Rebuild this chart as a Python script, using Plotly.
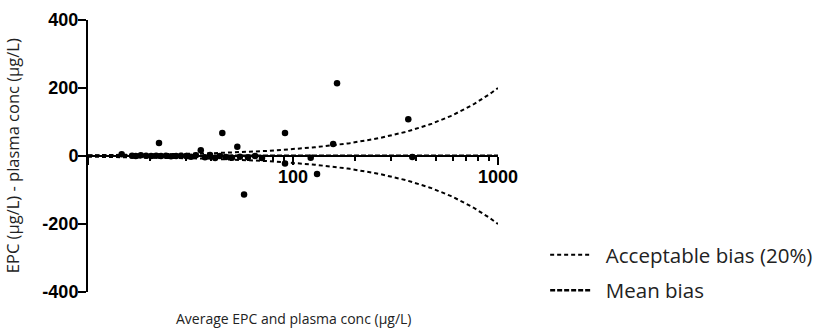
import numpy as np
import plotly.graph_objects as go

# Bland-Altman style comparison: EPC vs plasma concentration
avg_conc = [14.6, 16.4, 17.1, 18.1, 19.2, 20.3, 21.5, 22.2, 22.7, 24.0, 25.4, 26.9,
            28.4, 30.1, 31.8, 33.6, 35.5, 37.2, 39.4, 41.7, 44.0, 45.2, 47.1, 50.4,
            53.5, 55.1, 57.7, 60.3, 65.3, 70.6, 91.4, 91.4, 122, 131, 157, 164, 365, 382]
diff_conc = [5, 1, 0, 2, 1, 0, 1, 38, 0, 1, -1, 0,
             1, 0, -2, 2, 17, -4, 3, -6, 0, 68, -3, -5,
             27, -2, -113, -4, 0, -6, 68, -22, -5, -53, 35, 214, 108, -3]

BIAS_FRACTION = 0.20   # acceptable bias limit (20 %)
MEAN_BIAS = 1.0        # mean difference, µg/L

x_range = [10, 1000]
x_line = np.geomspace(x_range[0], x_range[1], 200)

y_ticks = [400, 200, 0, -200, -400]
y_tick_text = ["400", "200", "0", "-200", "-400"]
x_ticks = [10, 100, 1000]
x_tick_text = ["", "100", "1000"]
x_minor = [20, 30, 40, 50, 60, 70, 80, 90, 200, 300, 400, 500, 600, 700, 800, 900]

label_font = "'Open Sans', Lato, sans-serif"
tick_font = dict(family="Arial", size=18, color="black", weight="bold")
pad = "\u00a0\u00a0"  # gap between legend sample and its label

fig = go.Figure()

fig.add_trace(go.Scatter(
    x=x_line, y=BIAS_FRACTION * x_line, mode="lines",
    name=pad + "Acceptable bias (20%)", legendgroup="bias",
    line=dict(color="black", width=2, dash="4px,3px"),
))
fig.add_trace(go.Scatter(
    x=x_line, y=-BIAS_FRACTION * x_line, mode="lines",
    showlegend=False, legendgroup="bias",
    line=dict(color="black", width=2, dash="4px,3px"),
))
fig.add_trace(go.Scatter(
    x=x_range, y=[MEAN_BIAS, MEAN_BIAS], mode="lines",
    name=pad + "Mean bias", legendgroup="mean",
    line=dict(color="black", width=2.5, dash="5px,2px"),
))
fig.add_trace(go.Scatter(
    x=avg_conc, y=diff_conc, mode="markers", showlegend=False,
    marker=dict(color="black", size=6.5),
))

fig.update_layout(
    width=829, height=330,
    margin=dict(l=88, r=331, t=20, b=38, autoexpand=False),
    paper_bgcolor="white", plot_bgcolor="white",
    showlegend=True,
    legend=dict(
        x=1.115, xanchor="left", y=0.21, yanchor="top",
        font=dict(family=label_font, size=20.5, color="#222"),
        traceorder="grouped", tracegroupgap=6,
        itemwidth=40, bgcolor="rgba(0,0,0,0)",
    ),
    xaxis=dict(
        type="log", range=[np.log10(x_range[0]), np.log10(x_range[1])],
        anchor="free", position=0.5,
        showline=True, linecolor="black", linewidth=2,
        showgrid=False, zeroline=False,
        tickmode="array", tickvals=x_ticks, ticktext=x_tick_text,
        ticks="outside", ticklen=8, tickwidth=2, tickcolor="black",
        tickfont=tick_font, ticklabelstandoff=-4,
        minor=dict(tickmode="array", tickvals=x_minor, ticks="outside",
                   ticklen=4, tickwidth=1.5, tickcolor="black", showgrid=False),
    ),
    yaxis=dict(
        range=[-400, 400],
        showline=True, linecolor="black", linewidth=2,
        showgrid=False, zeroline=False,
        tickmode="array", tickvals=y_ticks, ticktext=y_tick_text,
        ticks="outside", ticklen=8, tickwidth=2, tickcolor="black",
        tickfont=tick_font, ticklabelstandoff=-4,
    ),
    annotations=[
        dict(text="Average EPC and plasma conc (μg/L)", xref="paper", yref="paper",
             x=0.5, y=-0.096, xanchor="center", yanchor="middle", showarrow=False,
             font=dict(family=label_font, size=14, color="#222")),
        dict(text="EPC (μg/L) - plasma conc (μg/L)", xref="paper", yref="paper",
             x=-0.185, y=0.5, xanchor="center", yanchor="middle", showarrow=False,
             textangle=-90, font=dict(family=label_font, size=16.5, color="#222")),
    ],
)

fig.write_html("out.html")
